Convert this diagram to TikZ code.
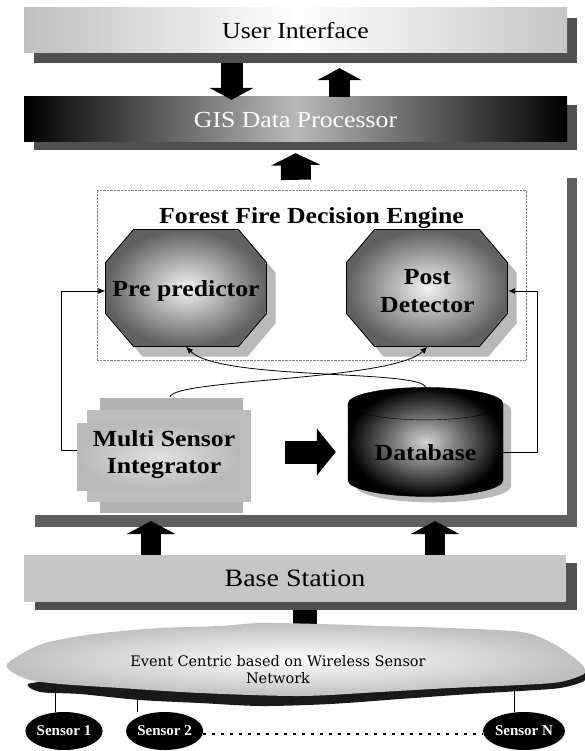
\documentclass[tikz,border=0pt]{standalone}
\usepackage{fontspec}
\setmainfont{Liberation Serif}
\newfontfamily\widefont{Liberation Serif}[FakeStretch=1.12]
\newfontfamily\wsnfont{DejaVu Serif}
\usepackage{tikz}
\usetikzlibrary{shapes,arrows.meta,positioning,calc,shadows}
\definecolor{barshade}{RGB}{80,80,80}
\definecolor{busgray}{RGB}{95,95,95}
\definecolor{cloudedge}{RGB}{25,25,25}

\begin{document}
\begin{tikzpicture}[x=1pt, y=-1pt,
        bar/.style={rectangle, inner sep=0pt, minimum width=543pt, minimum height=45pt, font=\widefont\fontsize{23}{26}\selectfont},
        octfill/.style={draw=black, thick, inner color=gray!10, outer color=gray!75!black},
        octshadow/.style={fill=gray!55},
        octa/.style={rectangle, inner sep=0pt, minimum width=161pt, minimum height=117pt, align=center, font=\widefont\bfseries\fontsize{23}{28}\selectfont},
        label/.style={align=center, font=\widefont\bfseries\fontsize{23}{27}\selectfont},
        fat/.style={line width=22pt, -{Triangle[length=12pt, width=44pt]}},
        line/.style={draw, thick, -{Latex[length=7pt, width=6pt]}},
        sensor/.style={ellipse, fill=black, text=white, inner sep=0pt, minimum width=61pt, minimum height=38pt, font=\bfseries\fontsize{15}{17}\selectfont}
    ]
        \useasboundingbox (0,0) rectangle (584,751);

        % Interface and processor
        \node[bar, left color=gray!50, right color=gray!45, middle color=white, drop shadow={shadow xshift=10pt, shadow yshift=-10pt, fill=barshade, opacity=1}] (ui) at (295.5,30.5) {User Interface};
        \node[bar, left color=black, right color=black, middle color=gray!55, text=white, drop shadow={shadow xshift=10pt, shadow yshift=-8pt, fill=barshade, opacity=1}] (gis) at (295.5,119.5) {GIS Data Processor};

        \draw[fat] ([xshift=-64pt, yshift=-10pt]ui.south) -- ([xshift=-64pt, yshift=-3pt]gis.north);
        \draw[fat, line width=21pt] ([xshift=44pt]gis.north) -- ([xshift=44pt, yshift=-15pt]ui.south);

        % Decision engine
        \node[draw=gray, densely dotted, minimum width=429pt, minimum height=170pt] (engine) at (311.5,275) {};
        \node[label, below=14pt of engine.north] (title) {Forest Fire Decision Engine};
        \draw[fat, line width=30pt, -{Triangle[length=12pt, width=49pt]}] ([xshift=-15.5pt, yshift=10pt]engine.north) -- ([yshift=-11pt]gis.south);

        % Octagons
        \foreach \cx in {186,427} {
            \fill[octshadow, shift={(\cx+9,298)}] (-52.5,-58.5) -- (52.5,-58.5) -- (80.5,-25.5) -- (80.5,25.5) -- (52.5,58.5) -- (-52.5,58.5) -- (-80.5,25.5) -- (-80.5,-25.5) -- cycle;
            \draw[octfill, shift={(\cx,288)}] (-52.5,-58.5) -- (52.5,-58.5) -- (80.5,-25.5) -- (80.5,25.5) -- (52.5,58.5) -- (-52.5,58.5) -- (-80.5,25.5) -- (-80.5,-25.5) -- cycle;
        }
        \node[octa] (pre) at (186,291) {Pre predictor};
        \node[octa, right=80pt of pre] (post) {Post\\Detector};

        % Integrator and database
        \fill[gray!60] (100,398) rectangle (243,513);
        \fill[gray!52] (87,410) rectangle (251,502);
        \shade[inner color=gray!25, outer color=gray!55] (77,423) rectangle (240,490);
        \node[label, minimum width=174pt, minimum height=116pt] (msi) at (164,455) {Multi Sensor\\Integrator};

        \node[cylinder, shape border rotate=90, aspect=0.3, draw=black, minimum width=155pt, minimum height=109pt, inner color=gray!35, outer color=black, label, drop shadow={shadow xshift=8pt, shadow yshift=-6pt, fill=gray!55, opacity=1}] (db) at (425.5,452.5) {Database};

        \draw[fat, line width=23pt, -{Triangle[length=19pt, width=46pt]}, shorten <=34pt, shorten >=12pt] ([yshift=3pt]msi.east) -- ([yshift=3pt]msi.east -| db.west);

        \draw[line] ([yshift=5pt]msi.west) -- ++(-15,0) |- (pre.west);
        \draw[line] (db.east) -- ++(34,0) |- (post.east);
        \draw[line] ([xshift=6pt]msi.north) .. controls +(5,-18) and +(-34,34) .. ([yshift=3pt]post.south);
        \draw[line] (db.north) .. controls +(-5,-18) and +(34,34) .. ([yshift=3pt]pre.south);

        % Bus
        \node[fill=busgray, inner sep=0pt, minimum width=10pt, minimum height=349pt] (riser) at (572,352.5) {};
        \node[fill=busgray, inner sep=0pt, minimum width=542pt, minimum height=12pt] (bus) at (306,521) {};

        % Base station
        \node[bar, minimum width=542pt, minimum height=47pt, fill=gray!45, font=\widefont\fontsize{25}{28}\selectfont, drop shadow={shadow xshift=11pt, shadow yshift=-8pt, fill=barshade, opacity=1}] (base) at (295,578.5) {Base Station};

        \draw[fat, line width=20pt, -{Triangle[length=13pt, width=48pt]}] ([xshift=-144pt]base.north) -- ([xshift=-144pt]base.north |- bus.center);
        \draw[fat, line width=20pt, -{Triangle[length=13pt, width=48pt]}] ([xshift=140pt]base.north) -- ([xshift=140pt]base.north |- bus.center);

        % Sensor network
        \coordinate (cloudtop) at (305,628);
        \draw[line width=24pt] ([xshift=10pt, yshift=-8pt]base.south) -- ([xshift=10pt]base.south |- cloudtop);

        \fill[cloudedge] plot[smooth cycle] coordinates {(28,684) (60,681) (120,686) (200,692) (300,694) (400,690) (480,686) (540,681) (584,672) (584,681) (560,688) (520,691) (470,694) (400,699) (330,704) (261,706) (200,703) (140,700) (80,694) (40,692)};
        \shade[inner color=white, outer color=gray!50] plot[smooth cycle] coordinates {(7,664) (25,652) (45,643) (80,636) (112,632) (160,628) (220,626) (261,623) (320,624) (380,626) (450,628) (522,632) (552,643) (572,656) (584,667) (584,674) (560,682) (520,685) (450,688) (380,692) (300,696) (200,693) (120,688) (60,684) (30,680) (12,672)};
        \node[font=\wsnfont\fontsize{14.5}{17}\selectfont, align=center] (wsn) at (278,670) {Event Centric based on Wireless Sensor\\Network};

        \node[sensor] (s1) at (64,731) {Sensor 1};
        \node[sensor, right=23pt of s1] (s2) {Sensor 2};
        \node[sensor] (sn) at (524,731) {Sensor N};

        \coordinate (c1) at (55,688);
        \coordinate (c2) at (137,700);
        \coordinate (cn) at (514,686);
        \draw[thick] (c1) -- (c1 |- s1.north);
        \draw[thick] (c2) -- (c2 |- s2.north);
        \draw[thick] (cn) -- (cn |- sn.north);
        \draw[line width=2.5pt, dash pattern=on 2.5pt off 6.5pt] ([yshift=-3pt]s2.east) -- ([yshift=-3pt]sn.west);

    \end{tikzpicture}
\end{document}
